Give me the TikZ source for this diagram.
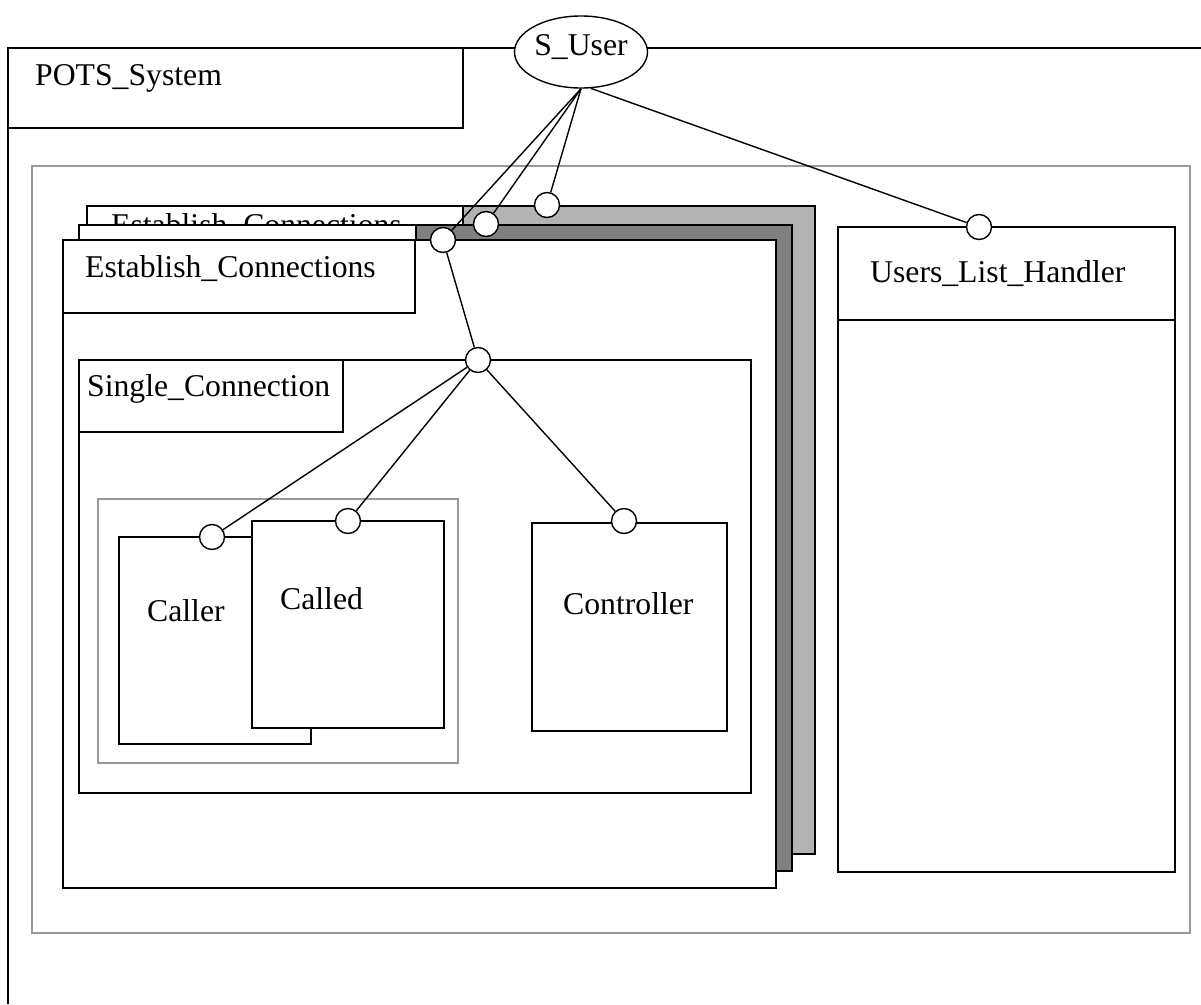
\documentclass[tikz,border=0pt]{standalone}
\usepackage{fontspec}
\setmainfont{Liberation Serif}
\usepackage{xcolor}
\usetikzlibrary{shapes,positioning}

\definecolor{stacklight}{HTML}{B3B3B3}
\definecolor{stackdark}{HTML}{808080}
\definecolor{framegray}{HTML}{999999}

\tikzset{
    box/.style={draw, line width=1.4pt, fill=white},
    grayframe/.style={draw=framegray, line width=2pt},
    port/.style={circle, draw, line width=1.4pt, fill=white, minimum size=25pt, inner sep=0pt},
    wire/.style={line width=1.4pt},
    boxtitle/.style={anchor=base west, inner sep=0pt},
}

\begin{document}
\begin{tikzpicture}[x=1pt, y=-1pt, font=\fontsize{31.7}{38}\selectfont]
    \useasboundingbox (0,0) rectangle (1201,1004);

    % POTS_System
    \draw [wire] (1201,48) -- (8,48) -- (8,1004);
    \draw [box] (8,48) rectangle (463,128);
    \node [boxtitle] (potslabel) at (35,85) {POTS\_System};
    \draw [grayframe] (32,166) rectangle (1190,933);

    % Establish_Connections stack, back to front
    \draw [box, fill=stacklight] (87,206) rectangle (815,854);
    \draw [box] (87,206) rectangle (463,279);
    \node [boxtitle] (backlabel) at (111,235) {Establish\_Connections};
    \draw [box, fill=stackdark] (79,225) rectangle (792,871);
    \draw [box] (79,225) rectangle (416,298);
    \draw [box] (63,240) rectangle (776,888);
    \draw [box] (63,240) rectangle (415,313);
    \node [boxtitle] (estlabel) at (85,277) {Establish\_Connections};

    % Single_Connection
    \draw [box] (79,360) rectangle (751,793);
    \draw [box] (79,360) rectangle (343,432);
    \node [boxtitle] (sclabel) at (87,396) {Single\_Connection};
    \draw [grayframe, line width=1.5pt] (98,499) rectangle (458,763);
    \draw [box] (119,537) rectangle (311,744);
    \node [boxtitle] (callerlabel) at (147,621) {Caller};
    \draw [box] (252,521) rectangle (444,728);
    \node [boxtitle] (calledlabel) at (280,609) {Called};
    \draw [box] (532,523) rectangle (727,731);
    \node [boxtitle] (ctrllabel) at (563,614) {Controller};

    % Users_List_Handler
    \draw [box] (838,227) rectangle (1175,872);
    \draw [wire] (838,320) -- (1175,320);
    \node [boxtitle] (ulhlabel) at (870,282) {Users\_List\_Handler};

    % S_User and ports
    \node [ellipse, draw, line width=1.4pt, fill=white, minimum width=133pt, minimum height=72pt, inner sep=0pt,
           label={[yshift=5pt]center:S\_User}] (suser) at (581,52) {};
    \foreach \port/\x/\y in {backport/547/205, midport/486/224, frontport/443/240, ulhport/979/227,
                             scport/478/360, callerport/212/537, calledport/348/521, ctrlport/624/521}
        \node [port] (\port) at (\x,\y) {};

    % connectors
    \foreach \port in {backport, midport, frontport}
        \draw [wire] (suser.south) -- (\port);
    \draw [wire] (suser.-75) -- (ulhport);
    \draw [wire] (frontport) -- (scport);
    \foreach \port in {callerport, calledport, ctrlport}
        \draw [wire] (scport) -- (\port);
\end{tikzpicture}
\end{document}
